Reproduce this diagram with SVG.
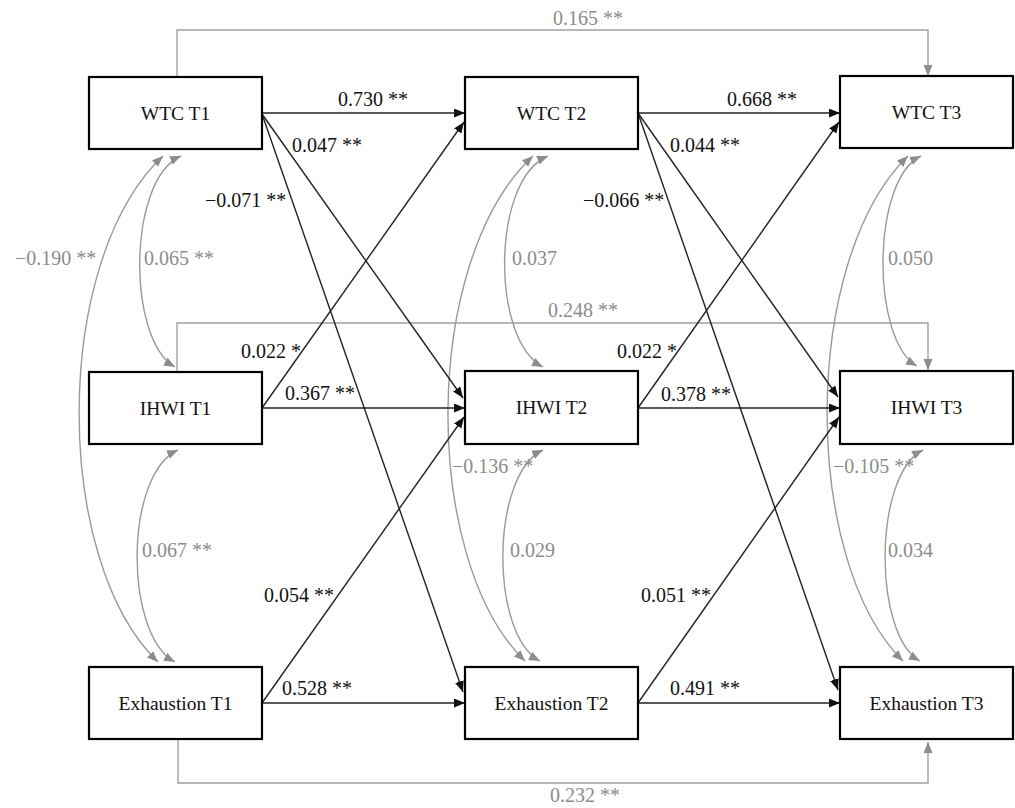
<svg xmlns="http://www.w3.org/2000/svg" width="1015" height="808" viewBox="0 0 1015 808">
<style>
.box{fill:#fff;stroke:#000;stroke-width:2.2}
.nt{font-family:"Liberation Serif","Times New Roman",serif;font-size:19.5px;fill:#111;text-anchor:middle}
.lb{font-family:"Liberation Serif","Times New Roman",serif;font-size:20px;fill:#111}
.gl{font-family:"Liberation Serif","Times New Roman",serif;font-size:20px;fill:#8c8c8c}
.pa{fill:none;stroke:#222;stroke-width:1.4;marker-end:url(#ab)}
.cv{fill:none;stroke:#9a9a9a;stroke-width:1.4;marker-start:url(#ag);marker-end:url(#ag)}
.el{fill:none;stroke:#a0a0a0;stroke-width:1.4;marker-end:url(#ag)}
</style>
<defs>
<marker id="ab" markerUnits="userSpaceOnUse" markerWidth="12" markerHeight="10" refX="11" refY="4.5" orient="auto"><path d="M0,0 L11,4.5 L0,9 z" fill="#111"/></marker>
<marker id="ag" markerUnits="userSpaceOnUse" markerWidth="12" markerHeight="10" refX="11" refY="4.5" orient="auto-start-reverse"><path d="M0,0 L11,4.5 L0,9 z" fill="#8c8c8c"/></marker>
</defs>
<rect width="1015" height="808" fill="#fff"/>
<g id="connectors">
<path class="el" d="M177,77 V30 H928 V76"/>
<path class="el" d="M177,372 V323 H928 V370"/>
<path class="el" d="M178,739 V783 H928 V742"/>
<path class="cv" d="M163,156 C52,260 52,560 158,662"/>
<path class="cv" d="M181,156 C127,180 127,340 175,367"/>
<path class="cv" d="M178,450 C124,475 124,635 175,662"/>
<path class="cv" d="M533,156 C421,260 421,560 525,661"/>
<path class="cv" d="M548,156 C491,180 491,340 543,367"/>
<path class="cv" d="M543,450 C490,475 490,635 540,661"/>
<path class="cv" d="M908,156 C801,260 801,560 903,661"/>
<path class="cv" d="M921,156 C871,180 871,340 917,366"/>
<path class="cv" d="M923,450 C873,475 873,635 920,661"/>
<path class="pa" d="M262,113 L465,113"/>
<path class="pa" d="M262,114 L463,398"/>
<path class="pa" d="M262,114 L463,692"/>
<path class="pa" d="M262,408 L464,122"/>
<path class="pa" d="M262,408 L465,408"/>
<path class="pa" d="M262,703 L464,417"/>
<path class="pa" d="M262,703 L465,703"/>
<path class="pa" d="M638,113 L840,113"/>
<path class="pa" d="M638,113 L838,397"/>
<path class="pa" d="M638,113 L838,690"/>
<path class="pa" d="M638,408 L839,122"/>
<path class="pa" d="M638,408 L840,408"/>
<path class="pa" d="M638,703 L839,417"/>
<path class="pa" d="M638,703 L840,703"/>
</g>
<g id="wtc1"><rect class="box" x="89" y="77" width="173" height="72"/><text class="nt" x="175.5" y="120">WTC T1</text></g>
<g id="wtc2"><rect class="box" x="465" y="77" width="173" height="72"/><text class="nt" x="551.5" y="120">WTC T2</text></g>
<g id="wtc3"><rect class="box" x="840" y="76" width="173" height="72"/><text class="nt" x="926.5" y="119">WTC T3</text></g>
<g id="ihwi1"><rect class="box" x="89" y="372" width="173" height="72"/><text class="nt" x="175.5" y="415">IHWI T1</text></g>
<g id="ihwi2"><rect class="box" x="465" y="371" width="173" height="73"/><text class="nt" x="551.5" y="414">IHWI T2</text></g>
<g id="ihwi3"><rect class="box" x="840" y="371" width="173" height="73"/><text class="nt" x="926.5" y="414">IHWI T3</text></g>
<g id="exh1"><rect class="box" x="89" y="667" width="173" height="72"/><text class="nt" x="175.5" y="710">Exhaustion T1</text></g>
<g id="exh2"><rect class="box" x="465" y="667" width="173" height="72"/><text class="nt" x="551.5" y="710">Exhaustion T2</text></g>
<g id="exh3"><rect class="box" x="840" y="667" width="173" height="72"/><text class="nt" x="926.5" y="710">Exhaustion T3</text></g>
<g id="labels">
<text class="lb" x="338" y="106">0.730 **</text>
<text class="lb" x="292" y="152">0.047 **</text>
<text class="lb" x="205" y="207">−0.071 **</text>
<text class="lb" x="727" y="106">0.668 **</text>
<text class="lb" x="670" y="152">0.044 **</text>
<text class="lb" x="583" y="207">−0.066 **</text>
<text class="lb" x="241" y="358">0.022 *</text>
<text class="lb" x="285" y="400">0.367 **</text>
<text class="lb" x="617" y="358">0.022 *</text>
<text class="lb" x="661" y="401">0.378 **</text>
<text class="lb" x="264" y="602">0.054 **</text>
<text class="lb" x="641" y="602">0.051 **</text>
<text class="lb" x="282" y="695">0.528 **</text>
<text class="lb" x="670" y="695">0.491 **</text>
<text class="gl" x="553" y="25">0.165 **</text>
<text class="gl" x="15" y="265">−0.190 **</text>
<text class="gl" x="144" y="265">0.065 **</text>
<text class="gl" x="512" y="265">0.037</text>
<text class="gl" x="888" y="265">0.050</text>
<text class="gl" x="548" y="317">0.248 **</text>
<text class="gl" x="452" y="473">−0.136 **</text>
<text class="gl" x="833" y="473">−0.105 **</text>
<text class="gl" x="142" y="557">0.067 **</text>
<text class="gl" x="510" y="557">0.029</text>
<text class="gl" x="888" y="557">0.034</text>
<text class="gl" x="550" y="802">0.232 **</text>
</g>
</svg>
